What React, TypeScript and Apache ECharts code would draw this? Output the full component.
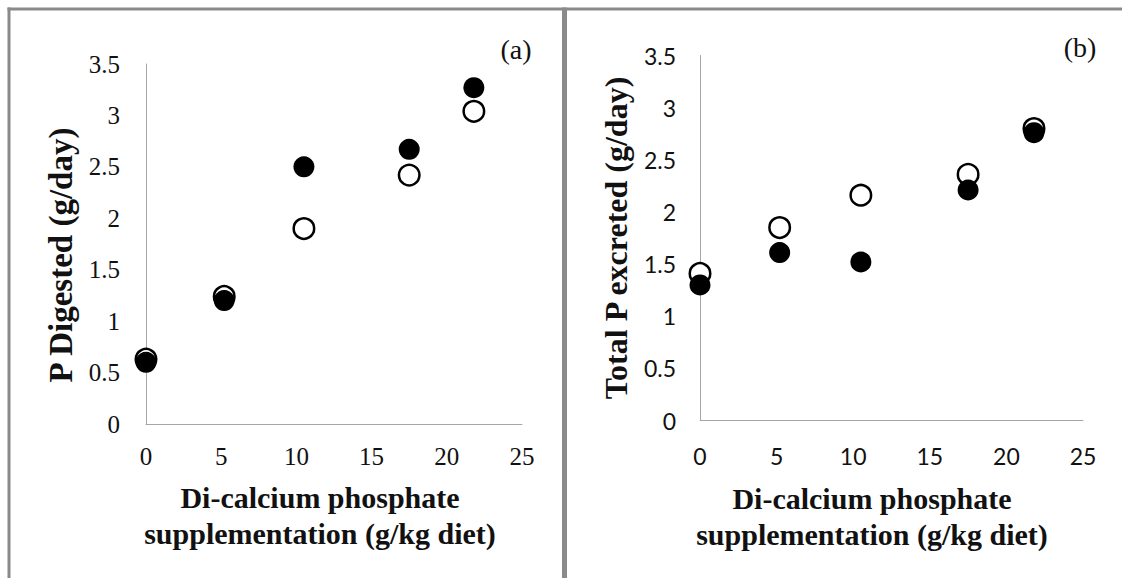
import React, { useEffect, useRef } from "react";
import * as echarts from "echarts";

// Di-calcium phosphate supplementation levels (g/kg diet)
const dcpLevels = [0, 5.2, 10.5, 17.5, 21.8];

// Panel (a): P digested (g/day)
const digestedOpen = [0.63, 1.24, 1.9, 2.42, 3.04];
const digestedFilled = [0.6, 1.2, 2.5, 2.67, 3.27];

// Panel (b): Total P excreted (g/day)
const excretedOpen = [1.41, 1.85, 2.16, 2.36, 2.8];
const excretedFilled = [1.3, 1.61, 1.52, 2.21, 2.76];

const xTitle = "Di-calcium phosphate\nsupplementation (g/kg diet)";
const yTitleA = "P Digested (g/day)";
const yTitleB = "Total P excreted (g/day)";

const SERIF = "'Liberation Serif', 'Times New Roman', serif";
const SANS = "Lato, 'Open Sans', sans-serif";
const AXIS_GRAY = "#a6a6a6";
const BORDER_GRAY = "#8a8a8a";

const pairs = (ys: number[]) => dcpLevels.map((x, i) => [x, ys[i]]);

export default function App() {
  const ref = useRef<HTMLDivElement>(null);

  useEffect(() => {
    if (!ref.current) return;
    const chart = echarts.init(ref.current, null, { renderer: "svg" });

    const xAxisBase = (gridIndex: number, font: string, size: number, margin: number) => ({
      type: "value",
      gridIndex,
      min: 0,
      max: 25,
      interval: 5,
      axisLine: { show: true, onZero: false, lineStyle: { color: AXIS_GRAY, width: 1 } },
      axisTick: { show: false },
      splitLine: { show: false },
      axisLabel: { fontFamily: font, fontSize: size, color: "#111", margin },
    });
    const yAxisBase = (gridIndex: number, font: string, size: number, margin: number) => ({
      type: "value",
      gridIndex,
      min: 0,
      max: 3.5,
      interval: 0.5,
      axisLine: { show: true, onZero: false, lineStyle: { color: AXIS_GRAY, width: 1 } },
      axisTick: { show: false },
      splitLine: { show: false },
      axisLabel: { fontFamily: font, fontSize: size, color: "#111", margin },
    });

    const openStyle = { color: "#ffffff", borderColor: "#000000", borderWidth: 2.5, opacity: 1 };
    const filledStyle = { color: "#000000", borderColor: "#000000", borderWidth: 0, opacity: 1 };

    chart.setOption({
      animation: false,
      backgroundColor: "#ffffff",
      grid: [
        { left: 146, top: 64, width: 376, height: 360 },
        { left: 700, top: 55.5, width: 383, height: 365 },
      ],
      xAxis: [xAxisBase(0, SERIF, 25, 20), xAxisBase(1, SANS, 23, 24)],
      yAxis: [yAxisBase(0, SERIF, 25, 26), yAxisBase(1, SANS, 23, 24)],
      series: [
        {
          type: "scatter",
          xAxisIndex: 0,
          yAxisIndex: 0,
          symbol: "circle",
          symbolSize: 20.5,
          itemStyle: openStyle,
          data: pairs(digestedOpen),
          z: 2,
        },
        {
          type: "scatter",
          xAxisIndex: 0,
          yAxisIndex: 0,
          symbol: "circle",
          symbolSize: 21,
          itemStyle: filledStyle,
          data: pairs(digestedFilled),
          z: 3,
        },
        {
          type: "scatter",
          xAxisIndex: 1,
          yAxisIndex: 1,
          symbol: "circle",
          symbolSize: 20.5,
          itemStyle: openStyle,
          data: pairs(excretedOpen),
          z: 2,
        },
        {
          type: "scatter",
          xAxisIndex: 1,
          yAxisIndex: 1,
          symbol: "circle",
          symbolSize: 21,
          itemStyle: filledStyle,
          data: pairs(excretedFilled),
          z: 3,
        },
      ],
      graphic: [
        // panel borders
        { type: "rect", shape: { x: 7.5, y: 7.5, width: 1120, height: 3 }, style: { fill: BORDER_GRAY }, silent: true },
        { type: "rect", shape: { x: 7.5, y: 7.5, width: 3, height: 580 }, style: { fill: BORDER_GRAY }, silent: true },
        { type: "rect", shape: { x: 562, y: 7.5, width: 5, height: 580 }, style: { fill: BORDER_GRAY }, silent: true },
        // panel letters
        {
          type: "text",
          x: 516,
          y: 49,
          style: { text: "(a)", font: `28px ${SERIF}`, fill: "#111", textAlign: "center", textVerticalAlign: "middle" },
        },
        {
          type: "text",
          x: 1080,
          y: 47,
          style: { text: "(b)", font: `28px ${SERIF}`, fill: "#111", textAlign: "center", textVerticalAlign: "middle" },
        },
        // x-axis titles
        {
          type: "text",
          x: 320,
          y: 515,
          style: {
            text: xTitle,
            font: `bold 30px ${SERIF}`,
            lineHeight: 36,
            fill: "#111",
            textAlign: "center",
            textVerticalAlign: "middle",
          },
        },
        {
          type: "text",
          x: 872,
          y: 516,
          style: {
            text: xTitle,
            font: `bold 30px ${SERIF}`,
            lineHeight: 36,
            fill: "#111",
            textAlign: "center",
            textVerticalAlign: "middle",
          },
        },
        // y-axis titles
        {
          type: "text",
          x: 61,
          y: 255,
          rotation: Math.PI / 2,
          style: { text: yTitleA, font: `bold 33px ${SERIF}`, fill: "#111", textAlign: "center", textVerticalAlign: "middle" },
        },
        {
          type: "text",
          x: 616,
          y: 238,
          rotation: Math.PI / 2,
          style: { text: yTitleB, font: `bold 32px ${SERIF}`, fill: "#111", textAlign: "center", textVerticalAlign: "middle" },
        },
      ],
    });

    return () => chart.dispose();
  }, []);

  return (
    <div
      ref={ref}
      style={{ position: "fixed", left: 0, top: 0, width: 1122, height: 578, background: "#fff" }}
    />
  );
}
